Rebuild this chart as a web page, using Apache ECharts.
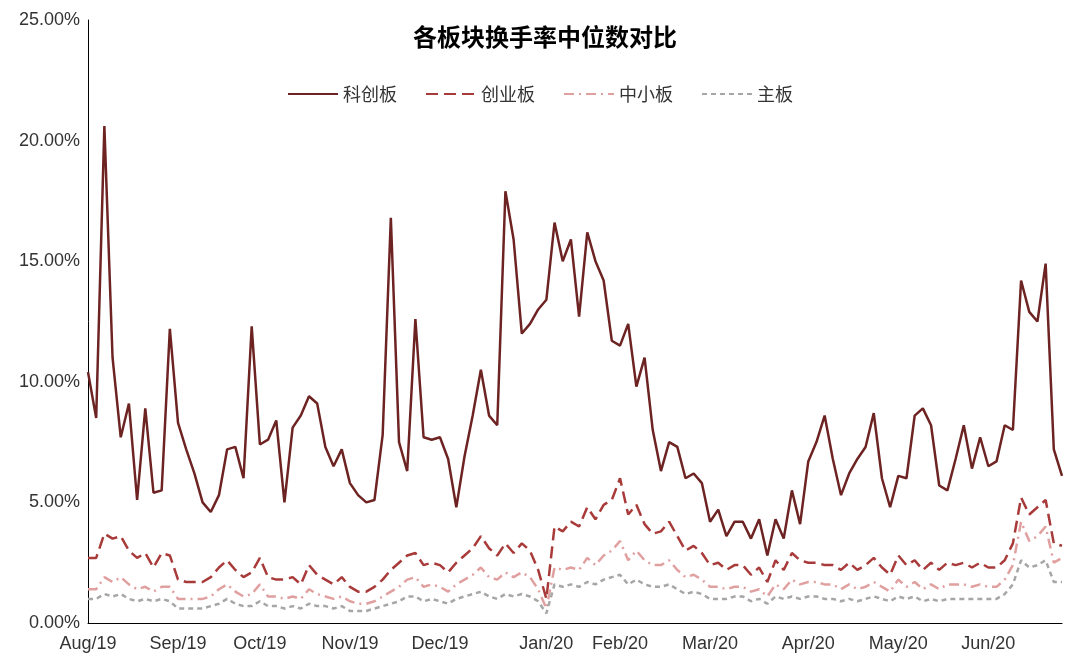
<!DOCTYPE html>
<html><head><meta charset="utf-8">
<script src="https://cdn.jsdelivr.net/npm/echarts@6/dist/echarts.min.js"></script>
<style>html,body{margin:0;padding:0;background:#fff}#c{width:1080px;height:669px}</style>
</head><body><div id="c"></div>
<script>
const monthLabels = {0:'Aug/19',11:'Sep/19',21:'Oct/19',32:'Nov/19',43:'Dec/19',56:'Jan/20',65:'Feb/20',76:'Mar/20',88:'Apr/20',99:'May/20',110:'Jun/20'};
const categories = Array.from({length:120},(_,i)=>monthLabels[i]||('d'+i));
const kcb = [10.4,8.5,20.6,11,7.7,9.1,5.1,8.9,5.4,5.5,
12.2,8.3,7.2,6.2,5.0,4.6,5.3,7.2,7.3,6.0,
12.3,7.4,7.6,8.4,5.0,8.1,8.6,9.4,9.1,7.3,
6.5,7.2,5.8,5.3,5.0,5.1,7.8,16.8,7.5,6.3,
12.6,7.7,7.6,7.7,6.8,4.8,6.9,8.6,10.5,8.6,
8.2,17.9,15.9,12.0,12.4,13.0,13.4,16.6,15.0,15.9,
12.7,16.2,15.0,14.2,11.7,11.5,12.4,9.8,11.0,8.0,
6.3,7.5,7.3,6.0,6.2,5.8,4.2,4.7,3.6,4.2,
4.2,3.5,4.3,2.8,4.3,3.5,5.5,4.1,6.7,7.5,
8.6,6.8,5.3,6.2,6.8,7.3,8.7,6.0,4.8,6.1,
6.0,8.6,8.9,8.2,5.7,5.5,6.8,8.2,6.4,7.7,
6.5,6.7,8.2,8.0,14.2,12.9,12.5,14.9,7.2,6.1];
const cyb = [2.7,2.7,3.7,3.5,3.6,3.0,2.7,2.9,2.3,2.9,
2.8,1.8,1.7,1.7,1.7,1.9,2.3,2.6,2.2,1.9,
2.1,2.7,1.9,1.8,1.8,1.9,1.6,2.4,2.0,1.8,
1.6,1.9,1.5,1.3,1.3,1.5,1.8,2.2,2.5,2.8,
2.9,2.4,2.5,2.4,2.1,2.5,2.8,3.1,3.6,3.1,
2.8,3.3,2.9,3.3,3.0,2.2,1.0,4.0,3.8,4.2,
4.0,4.8,4.3,4.9,5.1,6.0,4.5,4.9,4.1,3.7,
3.8,4.2,3.6,3.0,3.2,2.9,2.4,2.5,2.2,2.4,
2.4,2.0,2.3,1.7,2.6,2.2,2.9,2.6,2.5,2.5,
2.4,2.4,2.2,2.5,2.2,2.4,2.7,2.3,2.0,2.8,
2.4,2.6,2.2,2.5,2.2,2.5,2.4,2.5,2.3,2.5,
2.3,2.3,2.6,3.3,5.2,4.5,4.8,5.1,3.3,3.2];
const zxb = [1.4,1.4,1.9,1.7,1.9,1.6,1.4,1.5,1.3,1.5,
1.5,1.0,1.0,1.0,1.0,1.1,1.4,1.6,1.3,1.1,
1.2,1.6,1.1,1.1,1.0,1.1,1.0,1.4,1.2,1.1,
1.0,1.1,0.9,0.8,0.8,0.9,1.1,1.3,1.5,1.8,
1.9,1.5,1.6,1.5,1.3,1.6,1.8,2.0,2.3,1.9,
1.8,2.1,1.9,2.1,1.9,1.4,0.6,2.3,2.2,2.3,
2.2,2.7,2.4,2.8,3.0,3.4,2.6,3.0,2.6,2.4,
2.4,2.6,2.2,1.9,2.0,1.8,1.5,1.5,1.4,1.5,
1.5,1.3,1.4,1.1,1.6,1.4,1.8,1.6,1.7,1.7,
1.6,1.6,1.4,1.6,1.4,1.5,1.7,1.5,1.3,1.8,
1.5,1.7,1.4,1.6,1.4,1.6,1.6,1.6,1.5,1.6,
1.5,1.5,1.8,2.4,4.2,3.4,3.6,4.0,2.5,2.7];
const zb = [1.0,1.0,1.2,1.1,1.2,1.0,0.9,1.0,0.9,1.0,
0.9,0.6,0.6,0.6,0.6,0.7,0.8,1.0,0.8,0.7,
0.7,0.9,0.7,0.7,0.6,0.7,0.6,0.8,0.7,0.7,
0.6,0.7,0.5,0.5,0.5,0.6,0.7,0.8,0.9,1.1,
1.1,0.9,1.0,0.9,0.8,1.0,1.1,1.2,1.3,1.1,
1.0,1.2,1.1,1.2,1.1,0.9,0.4,1.6,1.5,1.6,
1.5,1.7,1.6,1.8,1.9,2.0,1.6,1.8,1.6,1.5,
1.5,1.6,1.4,1.2,1.3,1.2,1.0,1.0,1.0,1.1,
1.1,0.9,1.0,0.8,1.1,1.0,1.1,1.0,1.1,1.1,
1.0,1.0,0.9,1.0,0.9,1.0,1.1,1.0,0.9,1.1,
1.0,1.1,0.9,1.0,0.9,1.0,1.0,1.0,1.0,1.0,
1.0,1.0,1.2,1.6,2.6,2.3,2.4,2.6,1.7,1.7];
const names = ['科创板','创业板','中小板','主板'];
const chart = echarts.init(document.getElementById('c'));
const mk = (n,d,c,t,w)=>({name:n,type:'line',data:d,symbol:'none',lineStyle:{color:c,type:t,width:w},itemStyle:{color:c}});
chart.setOption({
  animation:false,
  title:{text:'各板块换手率中位数对比',left:540,top:20,textAlign:'center',textStyle:{fontFamily:'Noto Sans CJK SC',fontWeight:'bold',fontSize:24,color:'#000'}},
  legend:{top:80,left:'center',itemWidth:50,itemGap:28,itemStyle:{opacity:0},textStyle:{fontFamily:'Noto Sans CJK SC',fontSize:18,color:'#333'},
    data:names},
  grid:{left:88,right:18,top:20,bottom:46},
  xAxis:{type:'category',data:categories,boundaryGap:false,
    axisLine:{lineStyle:{color:'#000'}},axisTick:{show:false},
    axisLabel:{interval:0,formatter:v=>v.startsWith('d')?'':v,fontSize:18,color:'#333',fontFamily:'Liberation Sans',margin:12}},
  yAxis:{type:'value',min:0,max:25,interval:5,splitLine:{show:false},
    axisLine:{show:true,lineStyle:{color:'#000'}},axisTick:{show:false},
    axisLabel:{formatter:v=>v.toFixed(2)+'%',fontSize:18,color:'#333',fontFamily:'Liberation Sans'}},
  series:[
    mk(names[0],kcb,'#6E2323','solid',2.5),
    mk(names[1],cyb,'#A83A3A',[12,6],2.5),
    mk(names[2],zxb,'#E0A0A0',[10,5,2,5],2.5),
    mk(names[3],zb,'#A6A6A6',[5,4],2.5)
  ]
});
</script></body></html>
